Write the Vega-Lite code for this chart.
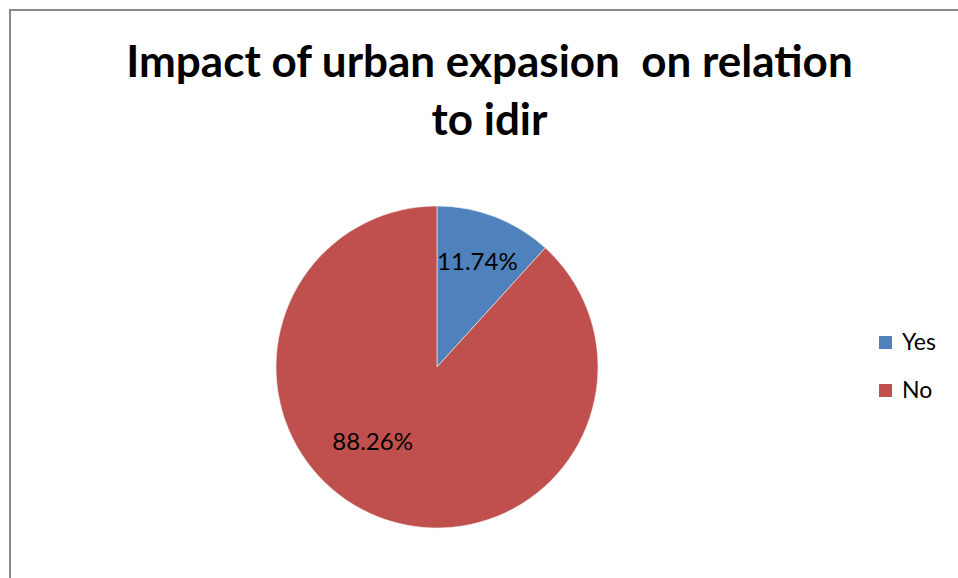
{
  "$schema": "https://vega.github.io/schema/vega-lite/v6.json",
  "width": 958,
  "height": 578,
  "autosize": {"type": "fit", "contains": "padding"},
  "padding": {"left": 10, "top": 10, "right": -3, "bottom": -3},
  "background": "white",
  "view": {"stroke": "#898989", "strokeWidth": 2, "fill": "white"},
  "title": {
    "text": ["Impact of urban expasion \u00a0on relation", "to idir"],
    "font": "Lato",
    "fontSize": 44,
    "fontWeight": "bold",
    "color": "black",
    "anchor": "middle",
    "frame": "group",
    "lineHeight": 58,
    "offset": -134,
    "dx": 4
  },
  "data": {
    "values": [
      {"answer": "Yes", "share": 0.1174},
      {"answer": "No", "share": 0.8826}
    ]
  },
  "encoding": {
    "theta": {"field": "share", "type": "quantitative", "stack": true},
    "order": {"field": "answer", "sort": "descending"}
  },
  "layer": [
    {
      "mark": {"type": "arc", "radius": 161, "x": 427, "y": 357, "stroke": "#f2f2f2", "strokeWidth": 0.6},
      "encoding": {
        "color": {
          "field": "answer",
          "type": "nominal",
          "scale": {"domain": ["Yes", "No"], "range": ["#4F81BD", "#C0504D"]},
          "legend": {
            "orient": "none",
            "legendX": 864,
            "legendY": 321,
            "title": null,
            "symbolType": "square",
            "symbolSize": 169,
            "symbolStrokeWidth": 0,
            "labelFont": "Lato",
            "labelFontSize": 23,
            "labelColor": "black",
            "labelOffset": 5,
            "rowPadding": 24
          }
        }
      }
    },
    {
      "mark": {
        "type": "text",
        "radius": 112,
        "x": 427,
        "y": 357,
        "font": "Lato",
        "fontSize": 24,
        "color": "black",
        "align": "center",
        "baseline": "middle",
        "dx": {"expr": "datum.answer === 'No' ? -24 : 0"},
        "dy": {"expr": "datum.answer === 'No' ? -28 : 0"}
      },
      "encoding": {
        "text": {"field": "share", "type": "quantitative", "format": ".2%"}
      }
    }
  ]
}
